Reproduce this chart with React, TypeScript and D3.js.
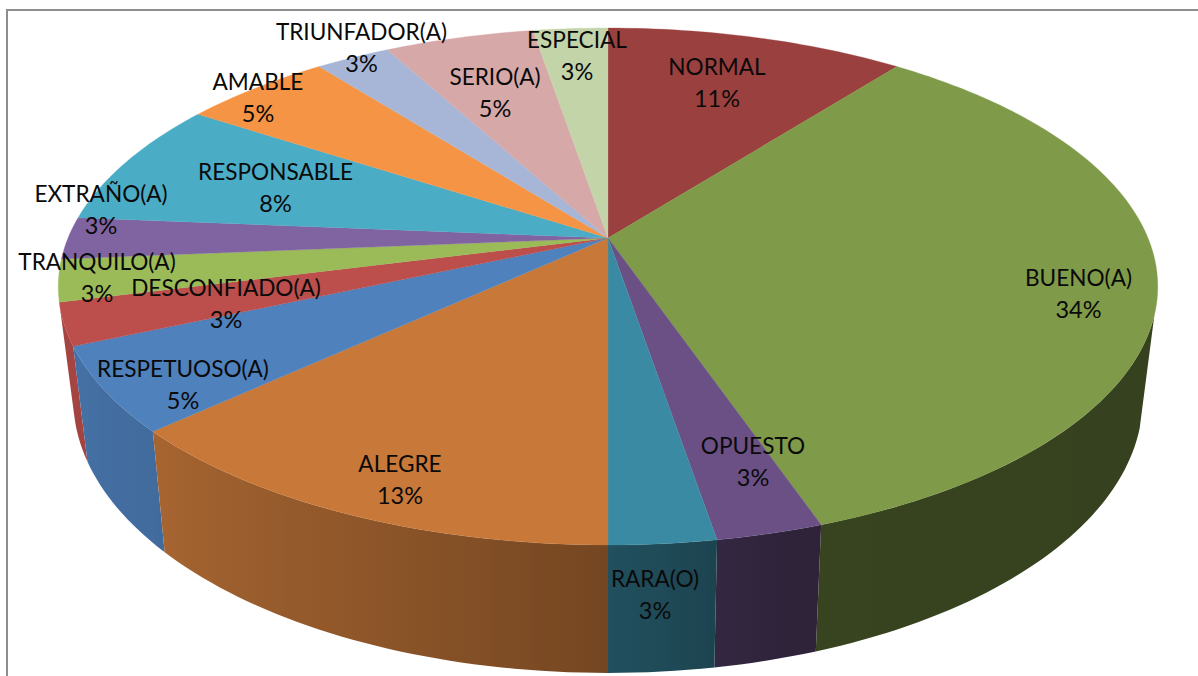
import React from "react";
import * as d3 from "d3";

const categories = ["NORMAL","BUENO(A)","OPUESTO","RARA(O)","ALEGRE","RESPETUOSO(A)","DESCONFIADO(A)","TRANQUILO(A)","EXTRAÑO(A)","RESPONSABLE","AMABLE","TRIUNFADOR(A)","SERIO(A)","ESPECIAL"];
const counts = [4,13,1,1,5,2,1,1,1,3,2,1,2,1];
const sliceColors = ["#9A403E","#7F9A48","#6A5085","#3A8AA3","#C8793A","#4F81BD","#BC4E4B","#9BBB59","#8064A2","#4BACC6","#F59444","#A7B6D6","#D6A8A8","#C3D4A8"];

// wall shading: fraction of the face colour by angle round the pie (degrees)
const shadeAngles = [0,100,165,175,180,200,227,250,360];
const shadeLevels = [0.42,0.42,0.44,0.53,0.58,0.70,0.83,0.88,0.88];

// layout: label centre x and first-line baseline
const labelX = [717,1078.5,753,655,400,183,226,97,101,275.5,258,361.5,495,577];
const labelY = [75,286,454,587,472,377,296,270,202,180,90,40,85,48];
const LINE_GAP = 32;

const W = 1198, H = 676;
const topPlane = { cx: 608, cy: 238, a: 540, b: 249.4, k: 0.1876 };
const basePlane = { cx: 608, cy: 347, a: 525, b: 264, k: 0.19 };
type Plane = typeof topPlane;
// side wall is visible only between the two silhouette rulings
const WALL_FROM = (107 * Math.PI) / 180;
const WALL_TO = (255.8 * Math.PI) / 180;

function project(p: Plane, theta: number): [number, number] {
  const u = Math.sin(theta), v = -Math.cos(theta);
  const d = 1 - p.k * v;
  return [p.cx + (p.a * u) / d, p.cy + (p.b * v) / d];
}

const total = d3.sum(counts);
const arcs = d3.pie<number>().sort(null).startAngle(0).endAngle(2 * Math.PI)(counts);
const shade = d3.scaleLinear<number>().domain(shadeAngles).range(shadeLevels);
const line = d3.line();
const pct = d3.format(".0%");
const STEP = (1.2 * Math.PI) / 180;

function samples(a0: number, a1: number): number[] {
  const n = Math.max(2, Math.ceil((a1 - a0) / STEP));
  return d3.range(n + 1).map((i) => a0 + ((a1 - a0) * i) / n);
}

const walls = arcs
  .map((arc, i) => {
    const a0 = Math.max(arc.startAngle, WALL_FROM);
    const a1 = Math.min(arc.endAngle, WALL_TO);
    if (a1 <= a0) return null;
    const ts = samples(a0, a1);
    const top = ts.map((t) => project(topPlane, t));
    const bottom = ts.map((t) => project(basePlane, t));
    const d = line([...top, ...bottom.slice().reverse()])! + "Z";
    const base = d3.rgb(sliceColors[i]);
    const xs = ts.map((_, j) => (top[j][0] + bottom[j][0]) / 2);
    const [x0, x1] = d3.extent(xs) as [number, number];
    const offset = d3.scaleLinear().domain([x0, x1]).range([0, 1]);
    const stops = ts
      .map((t, j) => {
        const f = shade((t * 180) / Math.PI);
        return { o: offset(xs[j]), c: d3.rgb(base.r * f, base.g * f, base.b * f).formatHex() };
      })
      .sort((p, q) => p.o - q.o);
    return { i, d, x0, x1, stops, depth: -Math.cos((a0 + a1) / 2) };
  })
  .filter((w): w is NonNullable<typeof w> => w !== null)
  .sort((p, q) => p.depth - q.depth);

const faces = arcs.map((arc) => {
  const pts = samples(arc.startAngle, arc.endAngle).map((t) => project(topPlane, t));
  return line([[topPlane.cx, topPlane.cy], ...pts])! + "Z";
});

export default function App() {
  return (
    <svg width={W} height={H} viewBox={`0 0 ${W} ${H}`} style={{ position: "fixed", left: 0, top: 0, background: "#fff" }}>
      <defs>
        {walls.map((w) => (
          <linearGradient key={w.i} id={`wall${w.i}`} gradientUnits="userSpaceOnUse" x1={w.x0} x2={w.x1} y1={0} y2={0}>
            {w.stops.map((s, j) => (
              <stop key={j} offset={s.o} stopColor={s.c} />
            ))}
          </linearGradient>
        ))}
      </defs>
      <path d={`M7,${H}V10H${W}`} fill="none" stroke="#8E8E8E" strokeWidth={2} />
      <g>
        {walls.map((w) => (
          <path key={w.i} d={w.d} fill={`url(#wall${w.i})`} />
        ))}
      </g>
      <g>
        {faces.map((d, i) => (
          <path key={categories[i]} d={d} fill={sliceColors[i]} stroke={sliceColors[i]} strokeWidth={0.3} />
        ))}
      </g>
      <g fontFamily="Lato, 'Open Sans', sans-serif" fontSize={22.6} fill="#0A0A0A" textAnchor="middle">
        {categories.map((c, i) => (
          <text key={c} x={labelX[i]} y={labelY[i]}>
            <tspan x={labelX[i]}>{c}</tspan>
            <tspan x={labelX[i]} y={labelY[i] + LINE_GAP} fontSize={23.5}>{pct(counts[i] / total)}</tspan>
          </text>
        ))}
      </g>
    </svg>
  );
}
